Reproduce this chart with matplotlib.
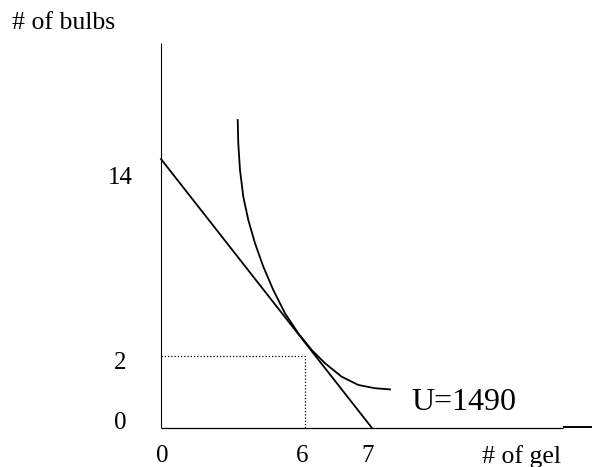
import matplotlib.pyplot as plt

# ==========================================
# Data (diagram units: gel on x, bulbs on y)
# ==========================================

budget_x = [0, 7]
budget_y = [14, 0]

indiff_x = [2.545, 2.564, 2.621, 2.730, 2.896, 3.118, 3.394, 3.726,
            4.114, 4.555, 5.000, 5.441, 5.995, 6.546, 7.100, 7.597]
indiff_y = [16.03, 14.82, 13.43, 12.04, 10.83, 9.62, 8.40, 7.18,
            5.97, 4.93, 4.06, 3.37, 2.67, 2.24, 2.07, 2.01]

opt_x = 4.78
opt_y = 3.75

x_tick_labels = ["0", "6", "7"]
x_tick_pos = [0.03, 4.68, 6.87]
y_tick_labels = ["0", "2", "14"]
y_tick_base = [-0.05, 3.05, 12.70]

utility_label = "U=1490"

# ==========================================
# Figure
# ==========================================

plt.rcParams['font.family'] = ['Liberation Serif', 'DejaVu Serif']

fig = plt.figure(figsize=(5.92, 4.67), dpi=100)
ax = fig.add_axes([0, 0, 1, 1])
ax.set_xlim(-5.342, 14.30)
ax.set_ylim(-2.03, 22.28)
ax.axis('off')

# axes lines
ax.plot([0, 0], [0, 20.04], color='black', lw=0.8, solid_capstyle='butt')
ax.plot([0, 13.34], [0, 0], color='black', lw=0.9, solid_capstyle='butt')
ax.plot([13.34, 14.30], [0.03, 0.03], color='black', lw=1.4, solid_capstyle='butt')

# budget line and indifference curve
ax.plot(budget_x, budget_y, color='black', lw=1.3)
ax.plot(indiff_x, indiff_y, color='black', lw=1.3)

# dotted guides to the optimum
ax.plot([0, opt_x], [opt_y, opt_y], color='black', lw=0.9,
        linestyle=(0, (1, 1.6)))
ax.plot([opt_x, opt_x], [0, opt_y], color='black', lw=0.9,
        linestyle=(0, (1, 1.6)))

# ==========================================
# Labels
# ==========================================

for lab, xp in zip(x_tick_labels, x_tick_pos):
    ax.text(xp, -1.78, lab, fontsize=18, ha='center', va='baseline')

for lab, yp in zip(y_tick_labels, y_tick_base):
    ax.text(-1.36, yp, lab, fontsize=18, ha='center', va='baseline')

ax.text(-4.94, 20.75, "# of bulbs", fontsize=18.5, ha='left', va='baseline')
ax.text(10.65, -1.82, "# of gel", fontsize=18.5, ha='left', va='baseline')
ax.text(8.30, 0.94, utility_label, fontsize=23, ha='left', va='baseline')

fig.savefig("out.png", dpi=100)
